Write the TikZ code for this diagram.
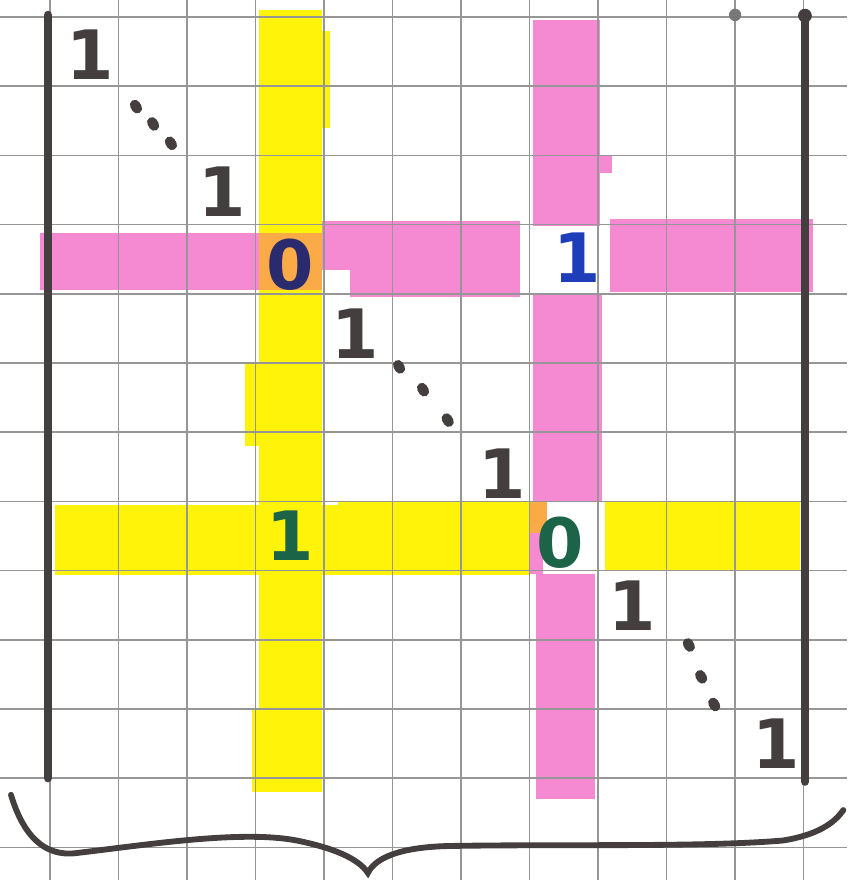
\documentclass[tikz,border=0pt]{standalone}
\usepackage{fontspec}
\setmainfont{DejaVu Sans}
\usepackage{xcolor}
\usepackage{tikz}
\usetikzlibrary{positioning,calc}

\definecolor{hlpink}{RGB}{245,138,210}
\definecolor{hlyellow}{RGB}{255,243,10}
\definecolor{hlorange}{RGB}{250,170,70}
\definecolor{inkgrey}{RGB}{68,62,62}
\definecolor{inkblue}{RGB}{30,62,185}
\definecolor{inknavy}{RGB}{42,42,110}
\definecolor{inkgreen}{RGB}{28,100,72}
\definecolor{paperline}{RGB}{150,150,150}

\begin{document}
\begin{tikzpicture}[
  x=0.99cm,
  y=1cm,
  font=\bfseries\fontsize{28}{30}\selectfont,
  entry/.style={text=inkgrey, inner sep=0pt},
  bar/.style={draw=inkgrey, line width=3.4pt, line cap=round},
  dotmark/.style={draw=inkgrey, line width=4.2pt, line cap=round},
  paper/.style={draw=paperline, line width=0.6pt},
  pinkpen/.style={fill=hlpink},
  yellowpen/.style={fill=hlyellow}
]
\useasboundingbox (-0.730,-12.471) rectangle (11.635,0.246);

% highlighter strokes
\fill[yellowpen] (3.05,0.10) rectangle (3.97,-11.03);
\fill[yellowpen] (3.12,-0.2) rectangle (4.08,-1.6);
\fill[yellowpen] (2.85,-5.0) rectangle (3.95,-6.2);
\fill[yellowpen] (2.95,-10.0) rectangle (3.97,-11.2);
\fill[yellowpen] (0.07,-7.05) rectangle (7.00,-8.06);
\fill[yellowpen] (4.2,-7.0) rectangle (7.0,-7.8);
\fill[yellowpen] (8.10,-7.00) rectangle (10.95,-8.00);
\fill[pinkpen] (-0.15,-3.12) rectangle (3.05,-3.95);
\fill[pinkpen] (3.97,-2.95) rectangle (6.86,-3.65);
\fill[pinkpen] (4.38,-3.5) rectangle (6.86,-4.05);
\fill[pinkpen] (8.18,-2.92) rectangle (11.14,-3.98);
\fill[pinkpen] (7.05,-0.04) rectangle (8.03,-3.02);
\fill[pinkpen] (8.0,-2.0) rectangle (8.2,-2.25);
\fill[pinkpen] (7.05,-4.0) rectangle (8.05,-7.00);
\fill[pinkpen] (7.10,-8.05) rectangle (7.95,-11.3);
\fill[pinkpen] (7.0,-7.0) rectangle (7.2,-8.05);
\fill[hlorange] (3.05,-3.12) rectangle (3.97,-3.95);
\fill[hlorange] (7.0,-7.0) rectangle (7.25,-7.45);

% squared paper
\draw[paper, step=1] (-0.730,-12.471) grid (11.635,0.246);

% matrix brackets
\draw[bar] (-0.03,0.03) -- (-0.03,-11.00);
\draw[bar] (11.02,-0.02) -- (11.02,-11.05);
\fill[inkgrey] (11.02,0.02) circle (0.10);
\fill[paperline!80!black] (10.00,0.03) circle (0.09);

% entries
\node[entry] (onea) at (0.58,-0.55) {1};
\node[entry] (oneb) at (2.51,-2.52) {1};
\node[entry, text=inknavy] (zeroa) at (3.50,-3.58) {0};
\node[entry, text=inkblue] (onex) at (7.70,-3.48) {1};
\node[entry] (onec) at (4.45,-4.57) {1};
\node[entry] (oned) at (6.60,-6.60) {1};
\node[entry, text=inkgreen] (oney) at (3.50,-7.50) {1};
\node[entry, text=inkgreen] (zerob) at (7.45,-7.60) {0};
\node[entry] (onee) at (8.50,-8.50) {1};
\node[entry] (onef) at (10.60,-10.50) {1};

% dots
\foreach \p in {(1.24,-1.27),(1.49,-1.52),(1.75,-1.80),
                (5.08,-5.03),(5.43,-5.36),(5.79,-5.80),
                (9.31,-9.05),(9.49,-9.51),(9.68,-9.91)}
  \draw[dotmark] \p -- ++(0.03,-0.05);

% brace under the matrix
\coordinate (bl) at (-0.57,-11.24);
\coordinate (tip) at (4.64,-12.37);
\coordinate (br) at (11.58,-11.46);
\draw[draw=inkgrey, line width=2.4pt, line cap=round]
  (bl) .. controls (-0.4,-11.8) and (-0.1,-12.15) .. (0.4,-12.08)
  .. controls (1.5,-11.95) and (2.8,-11.75) .. (3.6,-11.9)
  .. controls (4.1,-12.0) and (4.5,-12.15) .. (tip)
  .. controls (4.75,-12.15) and (5.1,-12.0) .. (5.8,-11.98)
  .. controls (7.5,-11.95) and (9.5,-12.0) .. (10.7,-11.9)
  .. controls (11.2,-11.82) and (11.45,-11.65) .. (br);

\end{tikzpicture}
\end{document}
